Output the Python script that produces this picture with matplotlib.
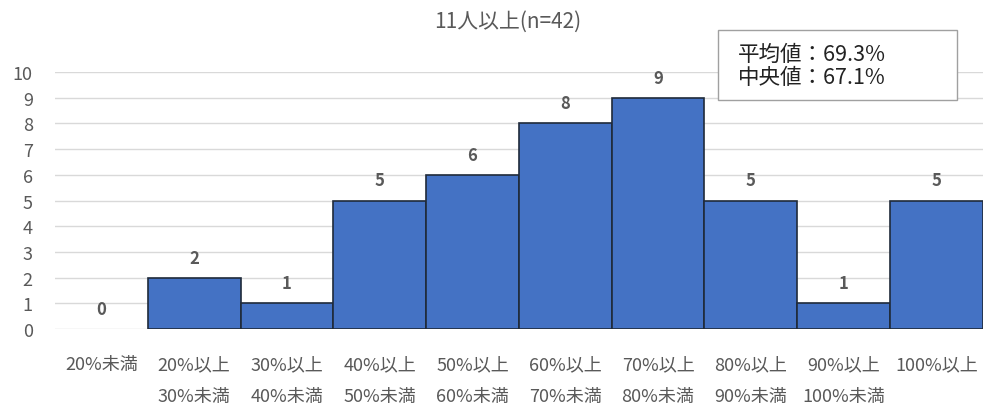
import matplotlib as mpl
mpl.use("Agg")
import matplotlib.pyplot as plt
from matplotlib.patches import Rectangle

plt.rcParams['font.family'] = ['Noto Sans CJK JP', 'DejaVu Sans']

categories = ["20%未満", "20%以上\n30%未満", "30%以上\n40%未満", "40%以上\n50%未満",
              "50%以上\n60%未満", "60%以上\n70%未満", "70%以上\n80%未満",
              "80%以上\n90%未満", "90%以上\n100%未満", "100%以上"]
counts = [0, 2, 1, 5, 6, 8, 9, 5, 1, 5]
title = "11人以上(n=42)"
stats_text = "平均値：69.3%\n中央値：67.1%"

gray = "#595959"

fig = plt.figure(figsize=(9.9, 4.1), dpi=100)
ax = fig.add_axes([0.0556, 0.195, 0.937, 0.627])

x = range(len(categories))
bars = ax.bar(x, counts, width=1.0, color="#4472C4", edgecolor="#1f2a3a", linewidth=1.2, zorder=3)
for b, c in zip(bars, counts):
    if c == 0:
        b.set_linewidth(0)

for i, c in zip(x, counts):
    ax.annotate(str(c), (i, c), xytext=(0, 8), textcoords="offset points",
                ha="center", va="bottom", fontsize=12, fontweight="bold", color=gray)

ax.set_xlim(-0.5, len(categories) - 0.5)
ax.set_ylim(0, 10)
ax.set_yticks(range(0, 11))
ax.set_xticks(list(x))
ax.set_xticklabels(categories, linespacing=2.0, va="top")
ax.tick_params(axis="both", length=0, colors=gray, labelsize=13)
ax.tick_params(axis="x", pad=19)
ax.tick_params(axis="y", pad=16)
ax.grid(axis="y", color="#d9d9d9", linewidth=1, zorder=0)
for s in ax.spines.values():
    s.set_visible(False)

fig.text(0.513, 0.948, title, ha="center", va="center", fontsize=15, color=gray)

fig.add_artist(Rectangle((0.725, 0.754), 0.242, 0.171, transform=fig.transFigure,
                         facecolor="white", edgecolor="#a0a0a0", linewidth=1, zorder=5))
fig.text(0.745, 0.838, stats_text, ha="left", va="center", fontsize=15.5, color="#222222",
         linespacing=1.1, zorder=6)

fig.savefig("out.png", dpi=100)
